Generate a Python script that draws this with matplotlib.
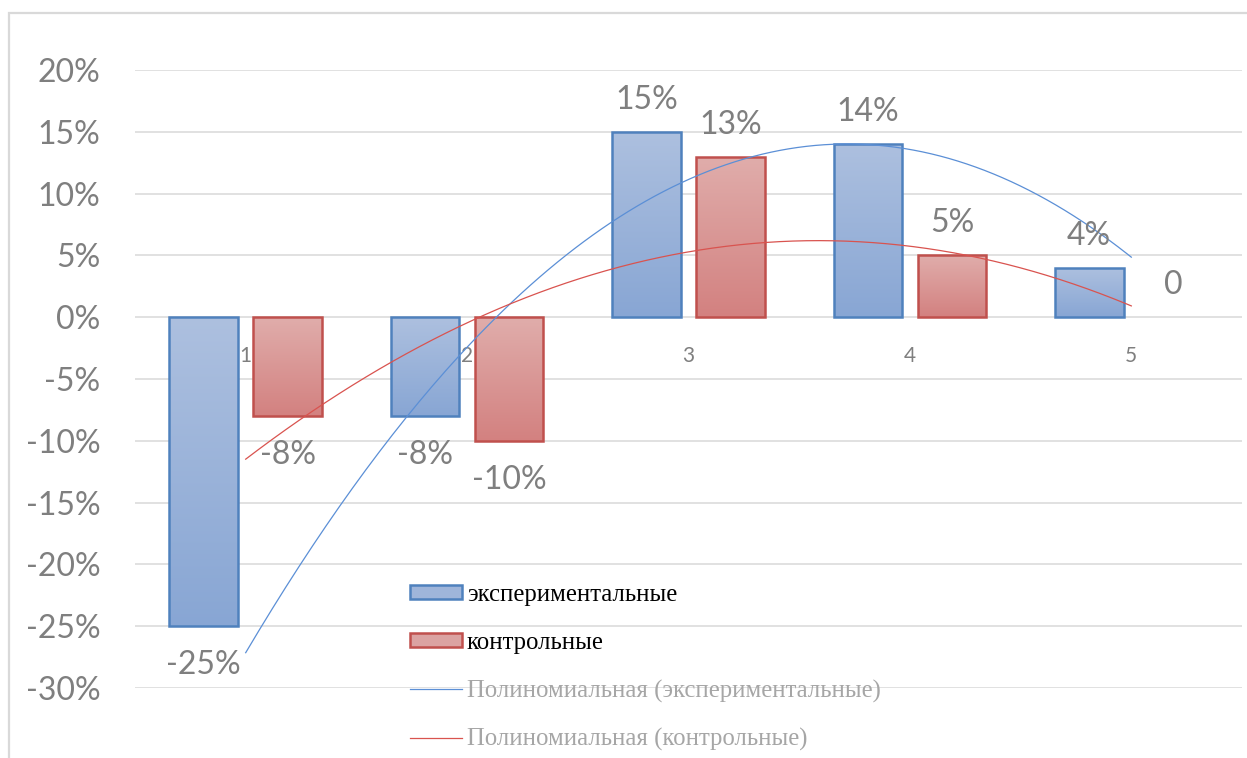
import numpy as np
import matplotlib
matplotlib.use('Agg')
import matplotlib.pyplot as plt
from matplotlib.patches import Rectangle
from matplotlib.lines import Line2D
from matplotlib.colors import LinearSegmentedColormap

categories = [1, 2, 3, 4, 5]
exp_values = [-25, -8, 15, 14, 4]
ctl_values = [-8, -10, 13, 5, 0]
exp_labels = ['-25%', '-8%', '15%', '14%', '4%']
ctl_labels = ['-8%', '-10%', '13%', '5%', '0']
series_names = ['экспериментальные', 'контрольные']
trend_names = ['Полиномиальная (экспериментальные)', 'Полиномиальная (контрольные)']
yticks = [-30, -25, -20, -15, -10, -5, 0, 5, 10, 15, 20]

W, H = 1247, 758
fig = plt.figure(figsize=(W / 100, H / 100), dpi=100)
ax = fig.add_axes([135 / W, 1 - 688 / H, (1242 - 135) / W, (688 - 70) / H])

gray = '#7f7f7f'
grid_c = '#d9d9d9'

ax.set_xlim(0.5, 5.5)
ax.set_ylim(-30, 20)
ax.set_yticks(yticks)
ax.set_yticklabels([f'{v}%' for v in yticks], fontsize=23, color=gray, family='Lato')
ax.tick_params(axis='y', length=0, pad=25)
ax.set_xticks([])
for s in ax.spines.values():
    s.set_visible(False)
for v in yticks:
    ax.axhline(v, color=grid_c, lw=1.1, zorder=0)

width = 0.31
offset = 0.19
styles = [
    (exp_values, exp_labels, -offset, '#4f81bd', ('#adc0df', '#88a6d4')),
    (ctl_values, ctl_labels, offset, '#c0504d', ('#e0adab', '#d38180')),
]

for vals, labs, off, edge, (c_top, c_bot) in styles:
    cmap = LinearSegmentedColormap.from_list('g', [c_top, c_bot])
    grad = np.linspace(0, 1, 256).reshape(-1, 1)
    for x, v, lab in zip(categories, vals, labs):
        xc = x + off
        top, bot = max(v, 0), min(v, 0)
        if v != 0:
            im = ax.imshow(grad, cmap=cmap, aspect='auto',
                           extent=(xc - width / 2, xc + width / 2, bot, top),
                           origin='upper', zorder=2)
            rect = Rectangle((xc - width / 2, bot), width, top - bot,
                             facecolor='none', edgecolor=edge, lw=1.8, zorder=3)
            ax.add_patch(rect)
            im.set_clip_path(rect)
        dy = 23 if v >= 0 else -28
        ax.annotate(lab, (xc, v), xytext=(0, dy), textcoords='offset points',
                    ha='center', va='center', fontsize=23, color=gray,
                    family='Lato', zorder=5)

ax.set_xlim(0.5, 5.5)
ax.set_ylim(-30, 20)

# category labels next to zero line
for x in categories:
    ax.annotate(str(x), (x, 0), xytext=(0, -28), textcoords='offset points',
                ha='center', va='center', fontsize=15, color=gray, family='Lato')

# polynomial trendlines (order 2)
xs = np.linspace(1, 5, 200)
trend_colors = ['#5b8fd6', '#d9534f']
for vals, c in zip([exp_values, ctl_values], trend_colors):
    p = np.polyfit(categories, vals, 2)
    ax.plot(xs, np.polyval(p, xs), color=c, lw=0.9, zorder=4)

handles = [
    Rectangle((0, 0), 1, 1, facecolor='#9fb5da', edgecolor='#4f81bd', lw=1.8),
    Rectangle((0, 0), 1, 1, facecolor='#dba3a2', edgecolor='#c0504d', lw=1.8),
    Line2D([], [], color=trend_colors[0], lw=0.9),
    Line2D([], [], color=trend_colors[1], lw=0.9),
]
leg = ax.legend(handles, series_names + trend_names, loc='upper left',
                bbox_to_anchor=(410 / W, 1 - 584 / H), bbox_transform=fig.transFigure,
                frameon=False, borderpad=0, borderaxespad=0,
                prop={'family': 'Liberation Serif', 'size': 17.8},
                handlelength=2.1, handleheight=0.5, handletextpad=0.2,
                labelspacing=1.04)
for t, c in zip(leg.get_texts(), ['#000000', '#000000', '#a6a6a6', '#a6a6a6']):
    t.set_color(c)

# chart border (left and top visible)
fig.add_artist(Rectangle((9 / W, -0.1), 1.5, 1.1 - 13 / H + 0.0, transform=fig.transFigure,
                         facecolor='none', edgecolor='#d9d9d9', lw=1.6))

fig.savefig('out.png', dpi=100)
